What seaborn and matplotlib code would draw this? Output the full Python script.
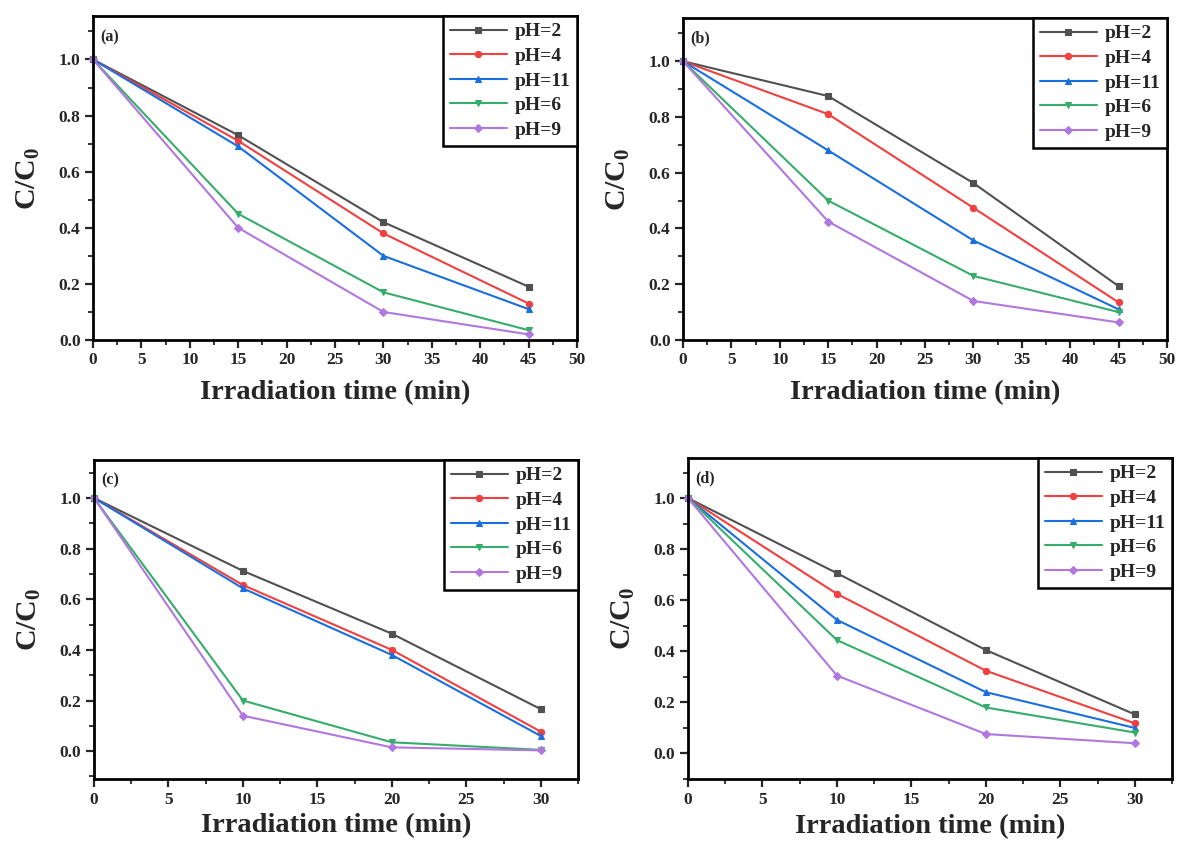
import matplotlib
matplotlib.use("Agg")
import pandas as pd
import matplotlib.pyplot as plt
import seaborn as sns
from matplotlib.ticker import MultipleLocator

# Series styling (Origin-like palette)
labels = ["pH=2", "pH=4", "pH=11", "pH=6", "pH=9"]
colors = ["#515151", "#F14040", "#1A6FDF", "#37AD6B", "#B177DE"]
markers = ["s", "o", "^", "v", "D"]

# Irradiation times
time_ab = [0, 15, 30, 45]
time_cd = [0, 10, 20, 30]

# C/C0 values, in the order of `labels`
panel_a = [
    [1.0, 0.73, 0.42, 0.19],
    [1.0, 0.71, 0.38, 0.13],
    [1.0, 0.69, 0.30, 0.11],
    [1.0, 0.45, 0.17, 0.035],
    [1.0, 0.40, 0.10, 0.02],
]
panel_b = [
    [1.0, 0.875, 0.563, 0.193],
    [1.0, 0.81, 0.474, 0.135],
    [1.0, 0.68, 0.357, 0.11],
    [1.0, 0.50, 0.23, 0.10],
    [1.0, 0.425, 0.14, 0.063],
]
panel_c = [
    [1.0, 0.712, 0.464, 0.166],
    [1.0, 0.656, 0.40, 0.077],
    [1.0, 0.643, 0.38, 0.06],
    [1.0, 0.20, 0.035, 0.005],
    [1.0, 0.14, 0.015, 0.003],
]
panel_d = [
    [1.0, 0.706, 0.405, 0.153],
    [1.0, 0.625, 0.324, 0.118],
    [1.0, 0.523, 0.24, 0.10],
    [1.0, 0.444, 0.18, 0.082],
    [1.0, 0.305, 0.076, 0.04],
]

sns.set_style("ticks")
plt.rcParams["font.family"] = ["Liberation Serif", "DejaVu Serif"]
plt.rcParams["font.weight"] = "bold"
plt.rcParams["axes.labelweight"] = "bold"
plt.rcParams["mathtext.fontset"] = "custom"
plt.rcParams["mathtext.rm"] = "Liberation Serif:bold"
plt.rcParams["mathtext.bf"] = "Liberation Serif:bold"
plt.rcParams["mathtext.it"] = "Liberation Serif:bold"

fig = plt.figure(figsize=(11.8, 8.43), dpi=100)

W, H = 1180, 843
# pixel boxes: left, top, right, bottom
boxes = {
    "a": (93, 16, 577, 340),
    "b": (683, 18, 1167, 340),
    "c": (94, 460, 578, 779),
    "d": (688, 458, 1172, 779),
}
panels = [
    ("a", time_ab, panel_a, (0, 50), (0, 1.155), -0.125),
    ("b", time_ab, panel_b, (0, 50), (0, 1.155), -0.125),
    ("c", time_cd, panel_c, (0, 32.5), (-0.11, 1.15), -0.108),
    ("d", time_cd, panel_d, (0, 32.5), (-0.1, 1.157), -0.108),
]

for tag, times, values, xlim, ylim, xlab_y in panels:
    l, t, r, b = boxes[tag]
    ax = fig.add_axes([l / W, 1 - b / H, (r - l) / W, (b - t) / H])

    for lab, col, mk, vals in zip(labels, colors, markers, values):
        df = pd.DataFrame({"time": times, "ratio": vals})
        sns.lineplot(data=df, x="time", y="ratio", ax=ax, color=col,
                     marker=mk, markersize=4.5, linewidth=1.5, label=lab,
                     markeredgecolor=col, markeredgewidth=0.8, clip_on=False)

    ax.set_xlim(*xlim)
    ax.set_ylim(*ylim)
    ax.xaxis.set_major_locator(MultipleLocator(5))
    ax.xaxis.set_minor_locator(MultipleLocator(2.5))
    ax.yaxis.set_major_locator(MultipleLocator(0.2))
    ax.yaxis.set_minor_locator(MultipleLocator(0.1))
    ax.set_yticks([0.0, 0.2, 0.4, 0.6, 0.8, 1.0])
    ax.tick_params(which="major", direction="out", length=6, width=1.6,
                   labelsize=12.5, pad=3)
    ax.tick_params(which="minor", direction="out", length=3.5, width=1.3)
    for sp in ax.spines.values():
        sp.set_visible(True)
        sp.set_linewidth(2)
        sp.set_color("black")

    ax.set_xlabel("Irradiation time (min)", fontsize=20.5, fontweight="bold")
    ax.set_ylabel(r"C/C$_0$", fontsize=21.5, fontweight="bold")
    ax.yaxis.set_label_coords(-0.105, 0.5)
    ax.xaxis.set_label_coords(0.5, xlab_y)

    ax.text(0.015, 0.96, f"({tag})", transform=ax.transAxes,
            fontsize=11.5, fontweight="bold", va="top", ha="left")

    leg = ax.legend(loc="upper right", frameon=True, fancybox=False,
                    borderaxespad=0, fontsize=14, handlelength=2.9,
                    handletextpad=0.4, labelspacing=0.36, borderpad=0.35)
    leg.get_frame().set_edgecolor("black")
    leg.get_frame().set_linewidth(1.8)
    leg.get_frame().set_alpha(1)

fig.savefig("out.png", dpi=100)
